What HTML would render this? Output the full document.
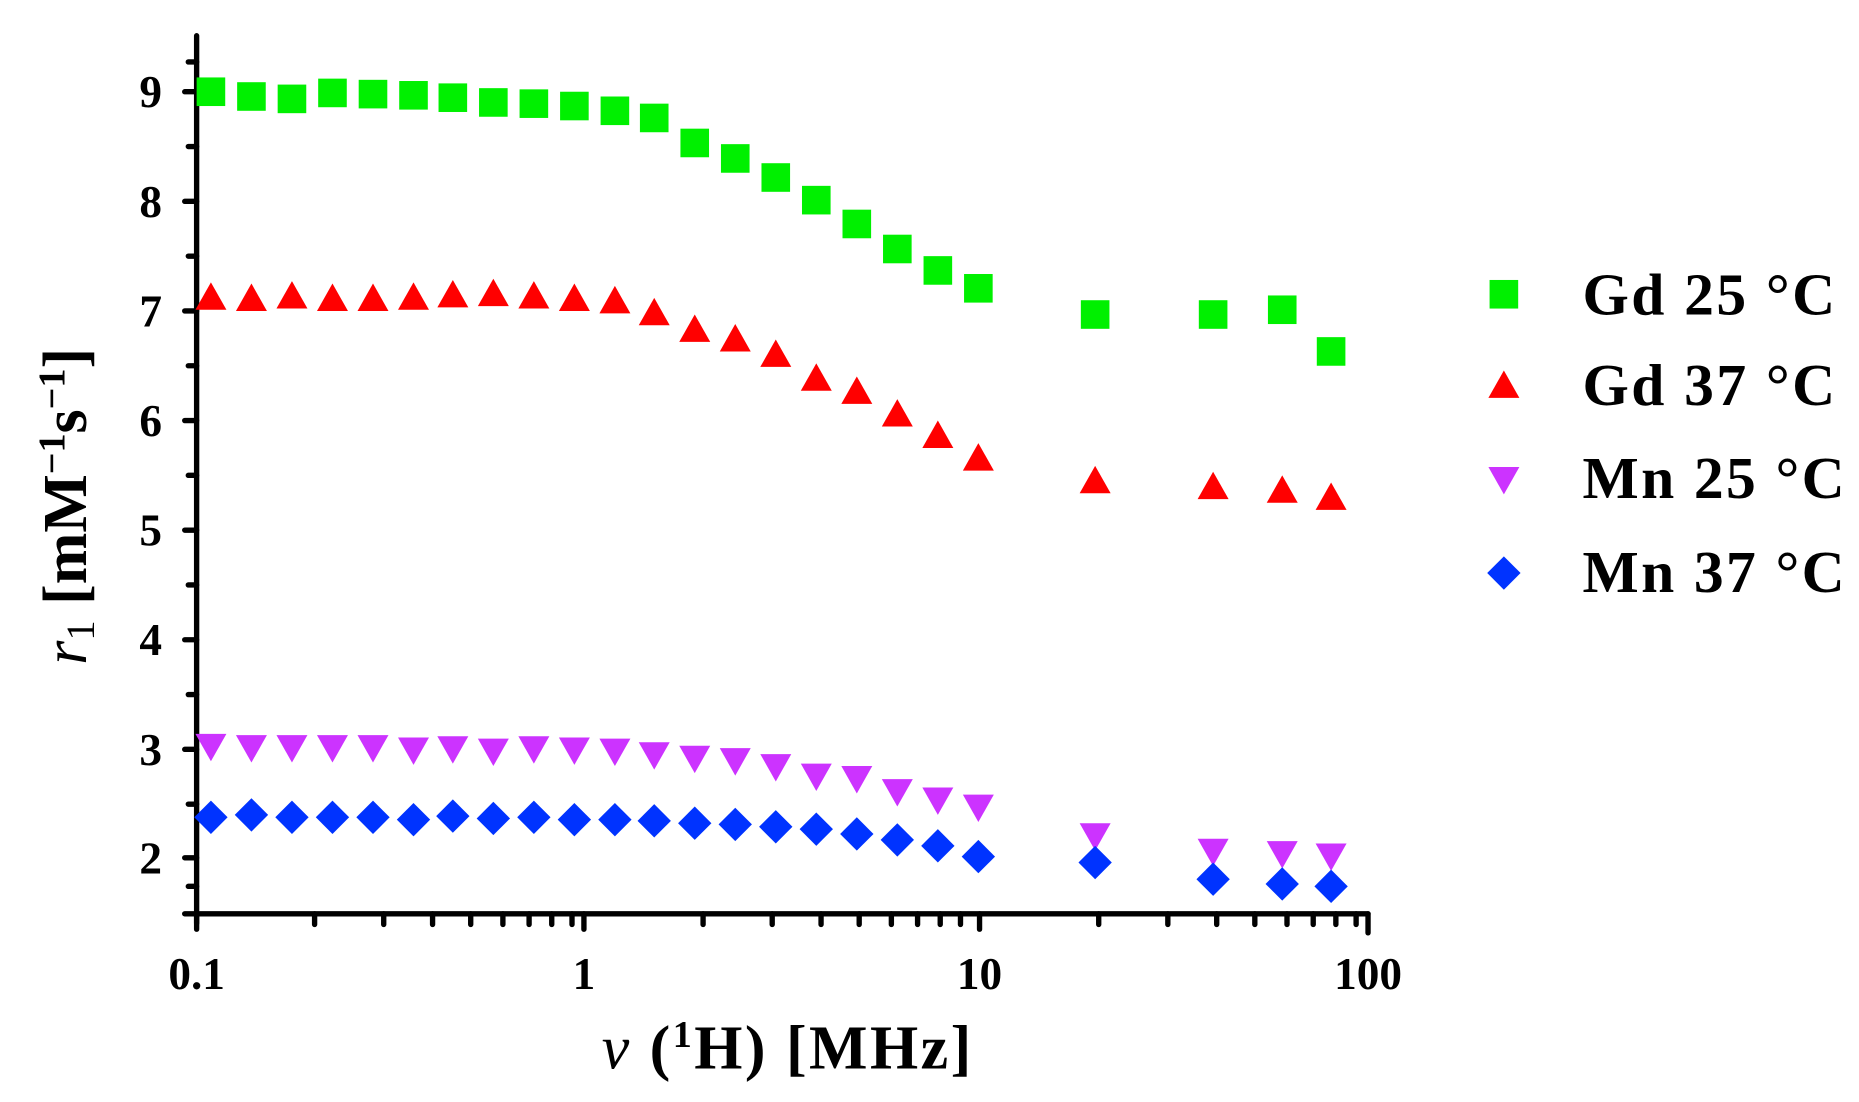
<!DOCTYPE html>
<html><head><meta charset="utf-8"><style>html,body{margin:0;padding:0;background:#fff;}svg{display:block}</style></head>
<body>
<svg width="1859" height="1102" viewBox="0 0 1560 925" preserveAspectRatio="none" xmlns="http://www.w3.org/2000/svg" font-family="Liberation Serif, serif" font-weight="bold">
<defs>
<rect id="sq" x="-12" y="-12" width="24" height="24" fill="#00f000"/>
<polygon id="tu" points="0,-12 13,11 -13,11" fill="#ff0000"/>
<polygon id="td" points="0,12 13,-11 -13,-11" fill="#cc33ff"/>
<polygon id="di" points="0,-14 14,0 0,14 -14,0" fill="#0033ff"/>
</defs>
<g stroke="#000" stroke-width="4.5" stroke-linecap="round" fill="none">
<line x1="165" y1="30" x2="165" y2="775"/>
<line x1="155" y1="767" x2="1148" y2="767"/>
<line x1="1148" y1="767" x2="1148" y2="783"/>
<line x1="165" y1="767" x2="165" y2="780"/>
<line x1="490" y1="767" x2="490" y2="780"/>
<line x1="822" y1="767" x2="822" y2="780"/>
<path d="M264,767v9M322,767v9M363,767v9M395,767v9M422,767v9M444,767v9M463,767v9M480,767v9
M590,767v9M648,767v9M689,767v9M721,767v9M748,767v9M770,767v9M789,767v9M806,767v9
M922,767v9M980,767v9M1021,767v9M1053,767v9M1080,767v9M1102,767v9M1121,767v9M1138,767v9"/>
<path d="M155,77h10M155,169h10M155,261h10M155,353h10M155,445h10M155,537h10M155,629h10M155,720h10
M158,123h7M158,215h7M158,307h7M158,399h7M158,491h7M158,583h7M158,675h7M158,52h7M158,744h7"/>
</g>
<g font-size="38" text-anchor="end">
<text x="136" y="90">9</text><text x="136" y="182">8</text><text x="136" y="274">7</text><text x="136" y="366">6</text>
<text x="136" y="458">5</text><text x="136" y="550">4</text><text x="136" y="642">3</text><text x="136" y="733">2</text>
</g>
<g font-size="38" text-anchor="middle">
<text x="165" y="830">0.1</text><text x="490" y="830">1</text><text x="822" y="830">10</text><text x="1148" y="830">100</text>
</g>
<text x="660" y="897" font-size="52" text-anchor="middle" textLength="310"><tspan font-style="italic" font-weight="normal">ν</tspan> (<tspan font-size="32" dy="-18">1</tspan><tspan dy="18">H) [MHz]</tspan></text>
<text transform="translate(72,425) rotate(-90)" font-size="52" text-anchor="middle"><tspan font-style="italic" font-weight="normal">r</tspan><tspan font-size="34" font-weight="normal" dy="7">1</tspan><tspan dy="-7"> [mM</tspan><tspan font-size="32" dy="-18">−1</tspan><tspan dy="18">s</tspan><tspan font-size="32" dy="-18">−1</tspan><tspan dy="18">]</tspan></text>
<g id="pts"></g>
<g font-size="50">
<use href="#sq" x="1262" y="247"/><text x="1328" y="264" textLength="212">Gd 25 °C</text>
<use href="#tu" x="1262" y="323"/><text x="1328" y="340" textLength="212">Gd 37 °C</text>
<use href="#td" x="1262" y="403"/><text x="1328" y="418" textLength="220">Mn 25 °C</text>
<use href="#di" x="1262" y="481"/><text x="1328" y="497" textLength="220">Mn 37 °C</text>
</g>
<script>
var xs=[177,211,245,279,313,347,380,414,448,482,516,549,583,617,651,685,719,753,787,821,919,1018,1076,1117];
var d={sq:[77,81,83,78,79,80,82,86,87,89,93,99,120,133,149,168,188,209,227,242,264,264,260,295],
tu:[249,250,248,250,250,249,247,246,248,250,252,262,276,284,297,317,328,347,365,384,403,408,411,417],
td:[627,628,628,628,628,630,629,631,629,630,631,634,637,639,644,652,654,665,672,678,702,715,717,719],
di:[686,684,686,686,686,688,685,687,686,688,688,689,691,692,694,696,700,705,710,719,724,738,742,744]};
var g=document.getElementById('pts'),ns='http://www.w3.org/2000/svg';
['sq','tu','td','di'].forEach(function(k){d[k].forEach(function(y,i){var u=document.createElementNS(ns,'use');u.setAttribute('href','#'+k);u.setAttribute('x',xs[i]);u.setAttribute('y',y);g.appendChild(u);});});
</script>
</svg>
</body></html>
